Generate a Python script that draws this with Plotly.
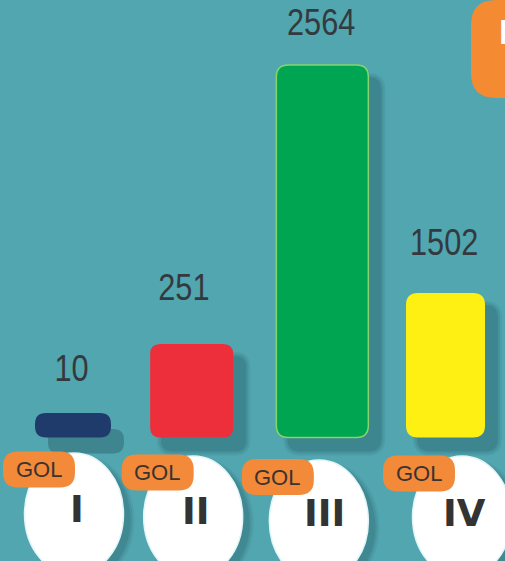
import plotly.graph_objects as go

# ---- data -------------------------------------------------------------
categories = ["I", "II", "III", "IV"]
values = [10, 251, 2564, 1502]            # printed values
bar_heights = [6.6, 25.1, 100, 38.8]      # drawn bar lengths (infographic, not to scale; III = 100)
badge_label = "GOL"
bar_colors = ["#1F3B6B", "#EC2F3A", "#00A551", "#FFF014"]

# ---- styling / layout constants ---------------------------------------
BG = "#52A6B0"
W, H = 505, 561
PX_PER_CAT = 124.17
FIRST_CAT_PX = 73
PX_PER_UNIT = 3.725
BASELINE_PX = 437.5

x_range = [-FIRST_CAT_PX / PX_PER_CAT, (W - FIRST_CAT_PX) / PX_PER_CAT]
y_range = [-(H - BASELINE_PX) / PX_PER_UNIT, BASELINE_PX / PX_PER_UNIT]

bar_extent = [(-38, 38), (-47, 36), (-45, 47), (-39.5, 39.5)]   # pixel extents around category
bar_radius = [11, 10, 12, 12]
bar_line = [None, None, "#86D46E", None]
circle_center = [(1, -76.5), (-4, -79.5), (-2.5, -83.5), (16.5, -79.5)]
CIRCLE_RX, CIRCLE_RY = 49.5, 61
badge_center = [(-34, -32), (-39.5, -35), (-43.5, -39.5), (-26.5, -36)]
label_shift = [(-2, 44), (-13, 57), (0, 42.5), (-1.5, 50.5)]
numeral_shift = [(3.5, -72), (-1, -73.5), (3, -76), (18.5, -76)]


def rr_path(xl, xr, yb, yt, rx, ry):
    return (f"M {xl+rx},{yb} L {xr-rx},{yb} Q {xr},{yb} {xr},{yb+ry} "
            f"L {xr},{yt-ry} Q {xr},{yt} {xr-rx},{yt} L {xl+rx},{yt} "
            f"Q {xl},{yt} {xl},{yt-ry} L {xl},{yb+ry} Q {xl},{yb} {xl+rx},{yb} Z")


fig = go.Figure()
fig.add_trace(go.Bar(
    x=list(range(len(categories))), y=bar_heights,
    marker=dict(color="rgba(0,0,0,0)", line=dict(width=0)),
    customdata=values, text=categories, textposition="none",
    hovertemplate="%{text}: %{customdata}<extra></extra>",
))

shapes = []
# bar shadows
for i, h in enumerate(bar_heights):
    xl, xr = bar_extent[i]
    r = bar_radius[i]
    dx, dy = (13, 16) if i == 0 else (12, 13)
    layers = [(0, 0.30)] if i == 0 else [(5, 0.08), (3, 0.10), (1, 0.14)]
    for g, op in layers:
        shapes.append(dict(
            type="path", xref="x", yref="y", xsizemode="pixel", xanchor=i,
            path=rr_path(xl + dx - g, xr + dx + g,
                         -(dy + g) / PX_PER_UNIT, h - (dy - g) / PX_PER_UNIT,
                         r + g, (r + g) / PX_PER_UNIT),
            fillcolor=f"rgba(15,55,65,{op})", line=dict(width=0), layer="above"))
# bars
for i, h in enumerate(bar_heights):
    xl, xr = bar_extent[i]
    r = bar_radius[i]
    shapes.append(dict(
        type="path", xref="x", yref="y", xsizemode="pixel", xanchor=i,
        path=rr_path(xl, xr, 0, h, r, r / PX_PER_UNIT),
        fillcolor=bar_colors[i],
        line=dict(width=1.5 if bar_line[i] else 0, color=bar_line[i] or bar_colors[i]),
        layer="above"))
# circle shadows + circles
for i in range(len(categories)):
    cx, cy = circle_center[i]
    for g, op in [(4, 0.07), (2, 0.09), (0, 0.12)]:
        sx, sy = cx + 7, cy - 6
        shapes.append(dict(
            type="circle", xref="x", yref="y", xsizemode="pixel", ysizemode="pixel",
            xanchor=i, yanchor=0,
            x0=sx - CIRCLE_RX - g, x1=sx + CIRCLE_RX + g,
            y0=sy - CIRCLE_RY - g, y1=sy + CIRCLE_RY + g,
            fillcolor=f"rgba(15,55,65,{op})", line=dict(width=0), layer="above"))
for i in range(len(categories)):
    cx, cy = circle_center[i]
    shapes.append(dict(
        type="circle", xref="x", yref="y", xsizemode="pixel", ysizemode="pixel",
        xanchor=i, yanchor=0,
        x0=cx - CIRCLE_RX, x1=cx + CIRCLE_RX, y0=cy - CIRCLE_RY, y1=cy + CIRCLE_RY,
        fillcolor="white", line=dict(color="#E2F6F9", width=1.5), layer="above"))
# badges
for i in range(len(categories)):
    bx, by = badge_center[i]
    bw, bh, br = 72, 36, 15
    shapes.append(dict(
        type="path", xref="x", yref="y", xsizemode="pixel", ysizemode="pixel",
        xanchor=i, yanchor=0,
        path=rr_path(bx - bw / 2, bx + bw / 2, by - bh / 2, by + bh / 2, br, br),
        fillcolor="#F28A3A", line=dict(width=0), layer="above"))
# top-right tab
rx, ry = 25 / W, 25 / H
xl, xr_, yt, yb = 471 / W, 1.1, 1.0, 1 - 98 / H
shapes.append(dict(
    type="path", xref="paper", yref="paper",
    path=(f"M {xl+rx},{yt} L {xr_},{yt} L {xr_},{yb} L {xl+rx},{yb} "
          f"Q {xl},{yb} {xl},{yb+ry} L {xl},{yt-ry} Q {xl},{yt} {xl+rx},{yt} Z"),
    fillcolor="#F48A32", line=dict(width=0), layer="above"))

annotations = []
for i, (v, h) in enumerate(zip(values, bar_heights)):
    sx, sy = label_shift[i]
    annotations.append(dict(
        x=i, y=h, xref="x", yref="y", text=str(v), showarrow=False,
        xshift=sx, yshift=sy, yanchor="middle",
        font=dict(family="Liberation Sans, Arial", size=37, color="#333A3F")))
for i, c in enumerate(categories):
    sx, sy = numeral_shift[i]
    annotations.append(dict(
        x=i, y=0, xref="x", yref="y", text=f"<b>{c}</b>", showarrow=False,
        xshift=sx, yshift=sy, yanchor="middle",
        font=dict(family="DejaVu Sans", size=37, color="#333333")))
    bx, by = badge_center[i]
    annotations.append(dict(
        x=i, y=0, xref="x", yref="y", text=badge_label, showarrow=False,
        xshift=bx - 0.5, yshift=by, yanchor="middle",
        font=dict(family="Liberation Sans, Arial", size=22, color="#3A3330")))
annotations.append(dict(
    x=497 / W, y=1 - 31 / H, xref="paper", yref="paper", text="<b>M</b>",
    showarrow=False, xanchor="left", yanchor="middle",
    font=dict(family="Liberation Sans, Arial", size=35, color="white")))

fig.update_layout(
    width=W, height=H, margin=dict(l=0, r=0, t=0, b=0),
    paper_bgcolor=BG, plot_bgcolor=BG, showlegend=False,
    xaxis=dict(range=x_range, visible=False, fixedrange=True),
    yaxis=dict(range=y_range, visible=False, fixedrange=True),
    shapes=shapes, annotations=annotations,
)

post_script = """
document.body.style.margin = '0';
document.body.style.background = '%s';
[0, 1, 2, 3].forEach(function (k) {
  var t = document.querySelector('.annotation[data-index="' + k + '"] text');
  if (t) {
    t.style.transformBox = 'fill-box';
    t.style.transformOrigin = 'center';
    t.style.transform = 'scaleX(0.83)';
  }
});
""" % BG

fig.write_html("out.html", config={"displayModeBar": False}, post_script=post_script)
